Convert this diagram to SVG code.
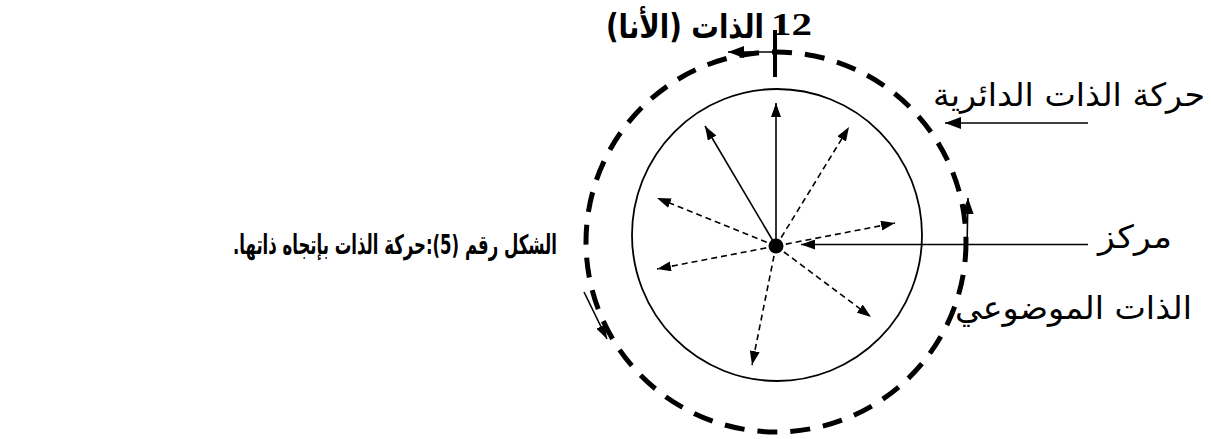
<svg xmlns="http://www.w3.org/2000/svg" width="1211" height="439" viewBox="0 0 1211 439">
<style>
.ar{font-family:"DejaVu Sans","Liberation Sans",sans-serif;fill:#000;direction:rtl;text-anchor:middle}
.b{font-weight:bold}
.thin{stroke:#000;stroke-width:1.6;fill:none}
.dash{stroke:#000;stroke-width:1.6;fill:none;stroke-dasharray:6 4}
.ah{fill:#000;stroke:none}
</style>
<defs>
<marker id="arr" viewBox="0 0 14 10" refX="14" refY="5" markerWidth="14" markerHeight="10" markerUnits="userSpaceOnUse" orient="auto">
<path class="ah" d="M0,0 L14,5 L0,10 Z"/>
</marker>
<marker id="arrB" viewBox="0 0 16 12" refX="16" refY="6" markerWidth="16" markerHeight="12" markerUnits="userSpaceOnUse" orient="auto">
<path class="ah" d="M0,0 L16,6 L0,12 Z"/>
</marker>
</defs>
<rect width="1211" height="439" fill="#fff"/>

<g id="outer-circle">
<circle cx="776" cy="242" r="190" fill="none" stroke="#000" stroke-width="5" stroke-dasharray="20 13"/>
</g>
<g id="inner-circle">
<ellipse cx="777" cy="235" rx="145" ry="146" fill="none" stroke="#000" stroke-width="1.8"/>
</g>
<g id="center-dot">
<circle cx="776" cy="246" r="7.5" fill="#000"/>
</g>

<g id="connectors">
<line class="thin" x1="776" y1="246" x2="776" y2="103" marker-end="url(#arr)"/>
<line class="thin" x1="776" y1="246" x2="705" y2="126" marker-end="url(#arr)"/>
<line class="dash" x1="776" y1="246" x2="849" y2="127" marker-end="url(#arr)"/>
<line class="dash" x1="776" y1="246" x2="657" y2="198" marker-end="url(#arr)"/>
<line class="dash" x1="776" y1="246" x2="895" y2="223" marker-end="url(#arr)"/>
<line class="dash" x1="776" y1="246" x2="657" y2="269" marker-end="url(#arr)"/>
<line class="dash" x1="776" y1="246" x2="871" y2="317" marker-end="url(#arr)"/>
<line class="dash" x1="776" y1="246" x2="752" y2="365" marker-end="url(#arr)"/>
<line class="thin" x1="1088" y1="244.5" x2="801" y2="244.5" marker-end="url(#arr)"/>
<line class="thin" x1="1088" y1="123" x2="945" y2="123" stroke-width="2" marker-end="url(#arrB)"/>
<line x1="775" y1="30" x2="775" y2="77" stroke="#000" stroke-width="4"/>
<line class="thin" x1="775" y1="52" x2="728" y2="52" stroke-width="2.5" marker-end="url(#arrB)"/>
<line class="thin" x1="967" y1="246" x2="968" y2="198" stroke-width="3" marker-end="url(#arrB)"/>
<line class="thin" x1="584" y1="292" x2="607" y2="339" stroke-width="2" marker-end="url(#arr)"/>
</g>

<g id="title">
<text class="ar b" x="685" y="38" font-size="33" textLength="158" lengthAdjust="spacingAndGlyphs">الذات (الأنا)</text>
<text x="771" y="35" style="font-family:'Liberation Serif',serif;font-weight:bold;font-size:32px" textLength="41" lengthAdjust="spacingAndGlyphs">12</text>
</g>
<g id="label-movement">
<text class="ar" x="1069" y="106" font-size="32" textLength="272" lengthAdjust="spacingAndGlyphs">حركة الذات الدائرية</text>
</g>
<g id="label-center">
<text class="ar" x="1135" y="248" font-size="32" textLength="74" lengthAdjust="spacingAndGlyphs">مركز</text>
</g>
<g id="label-objective">
<text class="ar" x="1073.5" y="319" font-size="32" textLength="237" lengthAdjust="spacingAndGlyphs">الذات الموضوعي</text>
</g>
<g id="caption">
<text class="ar b" x="395" y="254" font-size="27" textLength="324" lengthAdjust="spacingAndGlyphs">الشكل رقم (5):حركة الذات بإتجاه ذاتها.</text>
</g>
</svg>
